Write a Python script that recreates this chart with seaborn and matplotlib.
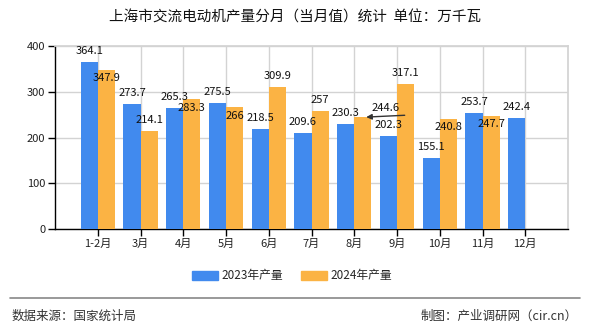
import numpy as np
import pandas as pd
import matplotlib
matplotlib.use("Agg")
import matplotlib.pyplot as plt
import seaborn as sns

months = ["1-2月", "3月", "4月", "5月", "6月", "7月", "8月", "9月", "10月", "11月", "12月"]
v2023 = [364.1, 273.7, 265.3, 275.5, 218.5, 209.6, 230.3, 202.3, 155.1, 253.7, 242.4]
v2024 = [347.9, 214.1, 283.3, 266, 309.9, 257, 244.6, 317.1, 240.8, 247.7, np.nan]
series = ["2023年产量", "2024年产量"]
yticks = [0, 100, 200, 300, 400]
title = "上海市交流电动机产量分月（当月值）统计  单位：万千瓦"
source = "数据来源：国家统计局"
maker = "制图：产业调研网（cir.cn）"
# label placement for 2024 labels (avoid overlaps like the original)
mode2024 = ["below", "above", "below", "below", "above", "above", "arrow", "above", "below", "below", None]

sns.set_theme(style="white")
plt.rcParams["font.family"] = ["Noto Sans CJK SC", "DejaVu Sans"]

df = pd.DataFrame({
    "month": months * 2,
    "value": v2023 + v2024,
    "series": [series[0]] * len(months) + [series[1]] * len(months),
})
df = df.dropna()

colors = ["#418AEE", "#FBB344"]
fig = plt.figure(figsize=(5.9, 3.3), dpi=100)
ax = fig.add_axes([55 / 590, 1 - 229 / 330, (568 - 55) / 590, (229 - 46) / 330])
sns.barplot(data=df, x="month", y="value", hue="series", order=months,
            hue_order=series, palette=colors, width=0.8, saturation=1,
            ax=ax, legend=True, zorder=3, linewidth=0, edgecolor="none")

ax.set_xlim(-1, len(months))
ax.set_ylim(0, 400)
ax.set_yticks(yticks)
ax.set_xlabel("")
ax.set_ylabel("")
ax.grid(True, color="#D3D3D3", linewidth=1, zorder=0)
ax.set_axisbelow(True)
for s in ["top", "right"]:
    ax.spines[s].set_color("#D3D3D3")
for s in ["left", "bottom"]:
    ax.spines[s].set_color("black")
    ax.spines[s].set_linewidth(1)
ax.tick_params(axis="both", which="both", direction="out", length=5, width=1,
               color="black", labelsize=8, pad=2, left=True, bottom=True)
for lab in ax.get_xticklabels() + ax.get_yticklabels():
    lab.set_color("#222222")

# data labels
vals = [v2023, v2024]
for k, cont in enumerate(ax.containers):
    for bar in cont:
        h = bar.get_height()
        if not np.isfinite(h):
            continue
        cx = bar.get_x() + bar.get_width() / 2
        i = int(round(cx))
        txt = f"{vals[k][i]:g}"
        m = "above" if k == 0 else mode2024[i]
        if m == "above":
            ax.annotate(txt, (cx, h), xytext=(0, 8), textcoords="offset points",
                        ha="center", va="center", fontsize=8, color="#111111", zorder=5)
        elif m == "below":
            ax.annotate(txt, (cx, h), xytext=(0, -6), textcoords="offset points",
                        ha="center", va="center", fontsize=8, color="#111111", zorder=5)
        elif m == "arrow":
            ax.annotate("", xy=(cx + 0.08, h), xytext=(cx + 0.98, h + 4),
                        arrowprops=dict(arrowstyle="-|>", color="#333333", lw=1,
                                        mutation_scale=8, shrinkA=0, shrinkB=0), zorder=5)
            ax.annotate(txt, (cx, h), xytext=(cx + 0.54, h + 19), textcoords="data",
                        ha="center", va="center", fontsize=8, color="#111111", zorder=5)

ax.get_legend().remove()
handles = [plt.Rectangle((0, 0), 1, 1, color=c) for c in colors]
fig.legend(handles, series, loc="center", bbox_to_anchor=(0.495, 1 - 276 / 330),
           ncol=2, frameon=False, fontsize=8.5, handlelength=2.2, handleheight=0.9,
           columnspacing=1.5, handletextpad=0.3)

fig.text(0.5, 1 - 18 / 330, title, ha="center", va="center", fontsize=10.5,
         color="#111111", fontweight="medium")
fig.add_artist(plt.Line2D([10 / 590, 580 / 590], [1 - 298 / 330] * 2,
                          color="#888888", lw=1.2, transform=fig.transFigure))
fig.text(12 / 590, 1 - 316 / 330, source, ha="left", va="center", fontsize=9, color="#333333")
fig.text(578 / 590, 1 - 316 / 330, maker, ha="right", va="center", fontsize=9, color="#333333")

fig.savefig("out.png", dpi=100)
